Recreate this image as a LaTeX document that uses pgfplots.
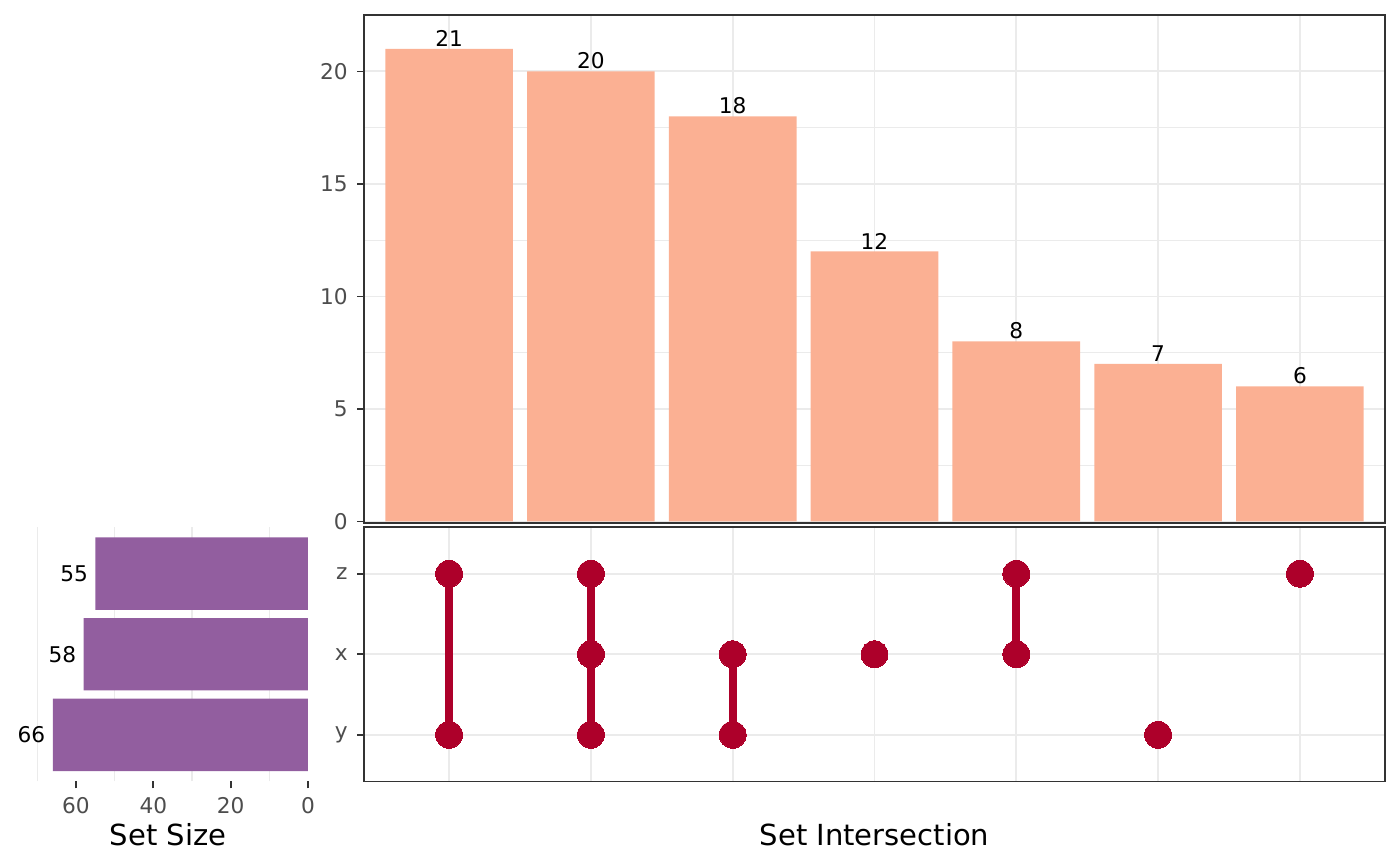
\documentclass[border=0pt]{standalone}
\usepackage{fontspec}
\setmainfont{DejaVu Sans}
\usepackage{pgfplots}
\pgfplotsset{compat=1.18}
\definecolor{barfill}{HTML}{FBB093}
\definecolor{setfill}{HTML}{925E9F}
\definecolor{dotred}{HTML}{AD002A}
\definecolor{gridgrey}{HTML}{EBEBEB}
\definecolor{tickgrey}{HTML}{4D4D4D}
\definecolor{framegrey}{HTML}{333333}

\pgfplotsset{
  panel/.style={
    scale only axis,
    anchor=south west,
    axis line style={framegrey, line width=0.65bp},
    major grid style={gridgrey, line width=0.7bp},
    minor grid style={gridgrey, line width=0.45bp},
    tick style={framegrey, line width=0.65bp},
    major tick length=2.5bp,
    minor tick length=0pt,
    tick align=outside,
    ticklabel style={font=\fontsize{7.8bp}{9bp}\selectfont, text=tickgrey},
    /pgf/number format/assume math mode=true,
    label style={font=\fontsize{10.45bp}{12bp}\selectfont},
  },
  memb/.style={dotred, line width=3bp, mark=*, mark size=4.85bp,
    mark options={line width=0pt, draw=dotred, fill=dotred}},
}

\begin{document}
\begin{tikzpicture}
\useasboundingbox (0,0) rectangle (504bp,311.76bp);

% intersection sizes
\begin{axis}[panel,
  at={(131.04bp,123.48bp)}, width=367.56bp, height=182.88bp,
  xmin=0.4, xmax=7.6, ymin=-0.067, ymax=22.51,
  xtick={1,...,7}, xticklabels={}, xtick style={draw=none}, xmajorgrids,
  ytick={0,5,10,15,20}, minor ytick={2.5,7.5,12.5,17.5},
  ymajorgrids, yminorgrids, ytick pos=left,
  yticklabel style={inner sep=0pt, xshift=-3.2bp},
  ybar, bar width=0.9,
  nodes near coords,
  nodes near coords align={anchor=south},
  every node near coord/.append style={font=\fontsize{7.8bp}{9bp}\selectfont,
    text=black, inner sep=0pt, yshift=0.6bp},
]
\addplot[fill=barfill, draw=none] coordinates {
(1,21) (2,20) (3,18) (4,12) (5,8) (6,7) (7,6)
};
\end{axis}

% membership matrix
\begin{axis}[panel,
  at={(131.04bp,30.42bp)}, width=367.56bp, height=91.62bp,
  xmin=0.4, xmax=7.6, ymin=0.42, ymax=3.58,
  xtick={1,...,7}, xticklabels={}, xtick style={draw=none}, xmajorgrids,
  ytick={1,2,3}, yticklabels={y,x,z}, ymajorgrids, ytick pos=left,
  yticklabel style={inner sep=0pt, xshift=-3.2bp},
  xlabel={Set Intersection},
  xlabel style={at={(axis description cs:0.5,0)}, anchor=center, yshift=-19.26bp},
]
\addplot[memb] coordinates {(1,1) (1,3)};
\addplot[memb] coordinates {(2,1) (2,2) (2,3)};
\addplot[memb] coordinates {(3,1) (3,2)};
\addplot[memb] coordinates {(4,2)};
\addplot[memb] coordinates {(5,2) (5,3)};
\addplot[memb] coordinates {(6,1)};
\addplot[memb] coordinates {(7,3)};
\end{axis}

% set sizes
\begin{axis}[panel,
  at={(12.74bp,30.42bp)}, width=98.14bp, height=91.62bp,
  x dir=reverse, xmin=0, xmax=70.5, ymin=0.42, ymax=3.58,
  axis line style={draw=none},
  xtick={0,20,40,60}, minor xtick={10,30,50,70}, xminorgrids, xtick pos=left,
  xticklabel style={inner sep=0pt, yshift=-3.2bp},
  ytick=\empty,
  xbar, bar width=0.9,
  nodes near coords,
  nodes near coords align={anchor=east},
  every node near coord/.append style={font=\fontsize{7.8bp}{9bp}\selectfont,
    text=black, inner sep=0pt, xshift=-2.5bp},
  xlabel={Set Size},
  xlabel style={at={(axis description cs:0.5,0)}, anchor=center, yshift=-19.26bp, xshift=-1.3bp},
]
\addplot[fill=setfill, draw=none] coordinates {(66,1) (58,2) (55,3)};
\end{axis}
\end{tikzpicture}
\end{document}
